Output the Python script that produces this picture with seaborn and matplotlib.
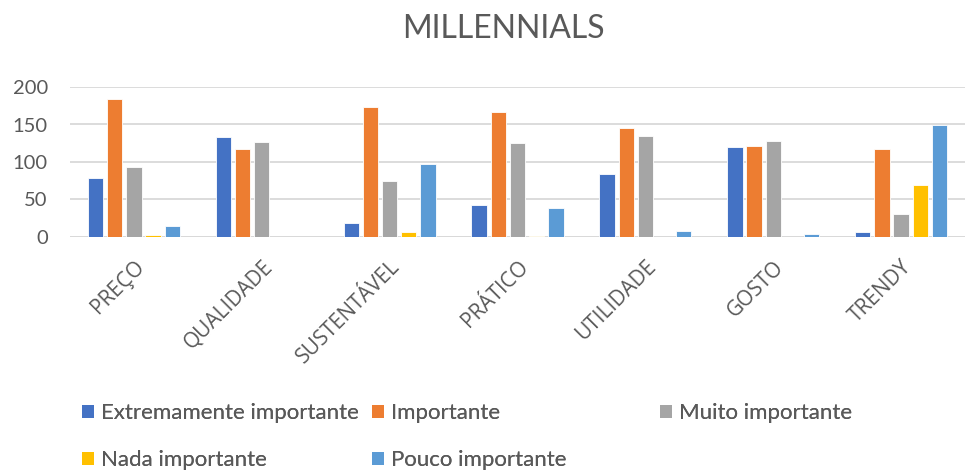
import matplotlib
matplotlib.use("Agg")
import matplotlib.pyplot as plt
import seaborn as sns
import pandas as pd
from matplotlib.patches import Patch

categories = ["PREÇO", "QUALIDADE", "SUSTENTÁVEL", "PRÁTICO", "UTILIDADE", "GOSTO", "TRENDY"]
series_names = ["Extremamente importante", "Importante", "Muito importante",
                "Nada importante", "Pouco importante"]
extremamente = [79, 133, 18, 42, 84, 120, 6]
importante = [184, 117, 174, 166, 145, 121, 118]
muito = [94, 127, 75, 126, 135, 128, 30]
nada = [2, 0, 7, 1, 0, 0, 69]
pouco = [15, 0, 98, 38, 8, 4, 149]
colors = ["#4472C4", "#ED7D31", "#A5A5A5", "#FFC000", "#5B9BD5"]
y_ticks = [0, 50, 100, 150, 200]

rows = []
for name, vals in zip(series_names, [extremamente, importante, muito, nada, pouco]):
    for cat, v in zip(categories, vals):
        rows.append({"categoria": cat, "serie": name, "valor": v})
df = pd.DataFrame(rows)

sns.set_theme(style="white")
plt.rcParams["font.family"] = ["Open Sans", "DejaVu Sans"]
text_color = "#595959"

fig = plt.figure(figsize=(9.71, 4.75), dpi=100)
ax = fig.add_axes([70 / 971, 1 - 237 / 475, 895 / 971, 150 / 475])

sns.barplot(data=df, x="categoria", y="valor", hue="serie", order=categories,
            hue_order=series_names, palette=colors, saturation=1, width=0.75, gap=0.2,
            edgecolor="white", linewidth=0.6, legend=False, ax=ax)

ax.set_ylim(0, 200)
ax.set_yticks(y_ticks)
ax.set_xlim(-0.5, len(categories) - 0.5)
ax.yaxis.grid(True, color="#D9D9D9", linewidth=1.3)
ax.set_axisbelow(True)
for s in ax.spines.values():
    s.set_visible(False)
ax.axhline(0, color="#D9D9D9", linewidth=1.3, zorder=0)
ax.set_xlabel("")
ax.set_ylabel("")
ax.tick_params(axis="y", labelsize=14.5, labelcolor=text_color, length=0, pad=16)
ax.tick_params(axis="x", labelsize=15, labelcolor=text_color, length=0, pad=14)
for lbl in ax.get_yticklabels():
    lbl.set_family(["Lato", "DejaVu Sans"])
for lbl in ax.get_xticklabels():
    lbl.set_rotation(45)
    lbl.set_ha("right")
    lbl.set_rotation_mode("anchor")

fig.text(503 / 971, 1 - 29 / 475, "MILLENNIALS", ha="center", va="center",
         fontsize=23, color=text_color, family=["Lato", "DejaVu Sans"])

# Legend laid out as a fixed three-column grid
handles = [Patch(facecolor=c, edgecolor="none") for c in colors]
columns = [([0, 3], 82), ([1, 4], 372), ([2], 660)]
for idx, x in columns:
    leg = fig.legend([handles[i] for i in idx], [series_names[i] for i in idx],
                     loc="upper left", bbox_to_anchor=(x / 971, 1 - 403 / 475),
                     frameon=False, handlelength=0.54, handleheight=0.54,
                     handletextpad=0.3, labelspacing=1.22,
                     prop={"family": ["Lato", "DejaVu Sans"], "size": 16},
                     labelcolor=text_color, borderaxespad=0, borderpad=0)
    fig.add_artist(leg)

fig.savefig("out.png", dpi=100)
